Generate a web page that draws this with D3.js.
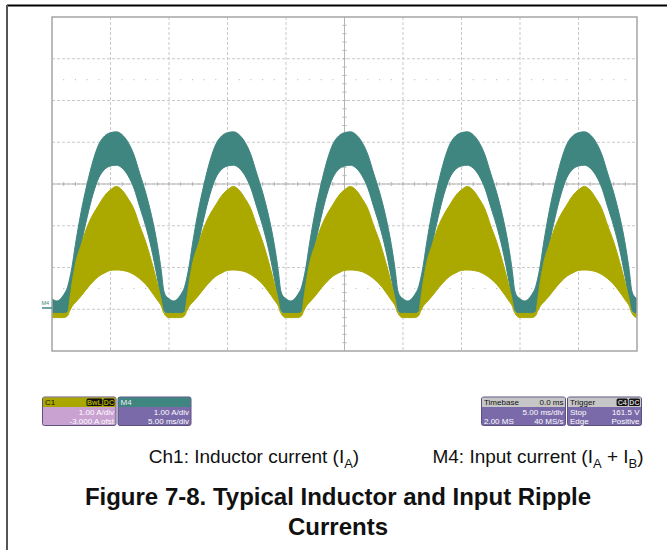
<!DOCTYPE html>
<html>
<head>
<meta charset="utf-8">
<script src="https://cdn.jsdelivr.net/npm/d3@7"></script>
<style>
  body { margin: 0; background: #fff; }
  text { font-family: "Liberation Sans", Arial, sans-serif; }
</style>
</head>
<body>
<div id="scope"></div>
<script>
// one 10 ms cycle of the rectified-line envelopes (A)
var cycleStarts = [0, 10, 20, 30, 40];   // ms
var tau  = [0, 0.4, 1.0, 1.35, 1.5, 1.7, 2.0, 2.5, 3.0, 3.5, 4.0, 4.5, 5.0, 5.5, 6.0, 6.5, 7.0, 7.5, 8.0, 8.5, 9.0, 9.35, 9.55, 9.8, 10.0];
var m4Hi = [0.25, 0.2, 0.35, 0.55, 0.72, 1.0, 1.55, 2.35, 3.0, 3.55, 3.95, 4.15, 4.23, 4.25, 4.18, 4.0, 3.7, 3.25, 2.8, 2.25, 1.55, 0.9, 0.45, 0.3, 0.25];
var m4Lo = [-0.12, -0.15, -0.12, -0.05, 0.0, 0.2, 0.7, 1.55, 2.2, 2.75, 3.15, 3.35, 3.43, 3.45, 3.38, 3.2, 2.9, 2.45, 2.0, 1.45, 0.75, 0.2, -0.02, -0.1, -0.12];
var ch1Hi = [-0.1, -0.1, -0.1, -0.08, 0.2, 0.6, 1.08, 1.55, 1.97, 2.27, 2.5, 2.72, 2.86, 2.94, 2.85, 2.65, 2.4, 2.0, 1.62, 1.15, 0.62, 0.2, -0.08, -0.1, -0.1];
var ch1Lo = [-0.2, -0.2, -0.2, -0.15, -0.05, 0.06, 0.16, 0.32, 0.5, 0.66, 0.79, 0.87, 0.93, 0.94, 0.93, 0.9, 0.83, 0.73, 0.6, 0.42, 0.22, 0.07, -0.08, -0.18, -0.2];

var timeDomain = [0, 50];   // 10 div x 5 ms
var ampDomain = [-1, 7];    // 8 div x 1 A, Ch1 offset -3 A

var boxes = [
  { head: "C1", tags: ["BwL", "DC"], rows: [["", "1.00 A/div"], ["", "-3.000 A ofst"]], hc: "#aaa800", bc: "#c9a2d2", tc: "#111" },
  { head: "M4", tags: [], rows: [["", "1.00 A/div"], ["", "5.00 ms/div"]], hc: "#3f8580", bc: "#7a6aa9", tc: "#eee" },
  { head: "Timebase", headRight: "0.0 ms", tags: [], rows: [["", "5.00 ms/div"], ["2.00 MS", "40 MS/s"]], hc: "#c6c6c6", bc: "#7a6aa9", tc: "#111" },
  { head: "Trigger", tags: ["C4", "DC"], rows: [["Stop", "161.5 V"], ["Edge", "Positive"]], hc: "#c6c6c6", bc: "#7a6aa9", tc: "#111" }
];
var boxX = [42.5, 118, 481.5, 567.5];
var boxW = [73.5, 73, 84, 74];

var W = 667, H = 550;
var svg = d3.select("#scope").append("svg").attr("width", W).attr("height", H);

// page frame
svg.append("line").attr("x1", 7).attr("x2", W).attr("y1", 5.5).attr("y2", 5.5).attr("stroke", "#000").attr("stroke-width", 2);
svg.append("line").attr("x1", 7).attr("x2", 7).attr("y1", 5).attr("y2", H).attr("stroke", "#555").attr("stroke-width", 2);

var x = d3.scaleLinear().domain(timeDomain).range([52, 637]);
var y = d3.scaleLinear().domain(ampDomain).range([351, 17]);

var grid = svg.append("g");
var xt = d3.range(timeDomain[0], timeDomain[1] + 1, 5);
var yt = d3.range(ampDomain[0], ampDomain[1] + 1, 1);

grid.selectAll(".vg").data(xt.slice(1, -1)).enter().append("line")
  .attr("x1", d => x(d)).attr("x2", d => x(d)).attr("y1", y(7)).attr("y2", y(-1))
  .attr("stroke", "#c9c9c9").attr("stroke-dasharray", "3,2");
grid.selectAll(".hg").data(yt.slice(1, -1)).enter().append("line")
  .attr("x1", x(0)).attr("x2", x(50)).attr("y1", d => y(d)).attr("y2", d => y(d))
  .attr("stroke", "#c9c9c9").attr("stroke-dasharray", "3,2");

// dotted rows
[y(5.5), y(0.5)].forEach(function (yy) {
  grid.selectAll(null).data(d3.range(1, 50)).enter().append("circle")
    .attr("cx", d => x(d)).attr("cy", yy).attr("r", 0.6).attr("fill", "#bbb");
});

// centre axes with minor ticks
grid.append("line").attr("x1", x(25)).attr("x2", x(25)).attr("y1", y(7)).attr("y2", y(-1)).attr("stroke", "#b5b5b5");
grid.append("line").attr("x1", x(0)).attr("x2", x(50)).attr("y1", y(3)).attr("y2", y(3)).attr("stroke", "#b5b5b5");
grid.selectAll(".tx").data(d3.range(1, 50)).enter().append("line")
  .attr("x1", d => x(d)).attr("x2", d => x(d)).attr("y1", y(3) - 2).attr("y2", y(3) + 2)
  .attr("stroke", "#b5b5b5");
grid.selectAll(".ty").data(d3.range(-0.8, 7, 0.2)).enter().append("line")
  .attr("x1", x(25) - 2).attr("x2", x(25) + 2).attr("y1", d => y(d)).attr("y2", d => y(d))
  .attr("stroke", "#b5b5b5");

// traces
var pts = function (hi, lo) {
  var out = [];
  cycleStarts.forEach(function (t0) {
    tau.forEach(function (t, i) { out.push({ t: t0 + t, hi: hi[i], lo: lo[i] }); });
  });
  return out;
};
var band = d3.area().curve(d3.curveMonotoneX)
  .x(d => x(d.t)).y0(d => y(d.lo)).y1(d => y(d.hi));

svg.append("clipPath").attr("id", "clip").append("rect")
  .attr("x", x(0)).attr("y", y(7)).attr("width", x(50) - x(0)).attr("height", y(-1) - y(7));
var tr = svg.append("g").attr("clip-path", "url(#clip)");
tr.append("path").datum(pts(m4Hi, m4Lo)).attr("d", band)
  .attr("fill", "#3f8580").attr("stroke", "#3f8580").attr("stroke-width", 1);
tr.append("path").datum(pts(ch1Hi, ch1Lo)).attr("d", band)
  .attr("fill", "#aba800").attr("stroke", "#aba800").attr("stroke-width", 1);

// frame
svg.append("rect").attr("x", x(0)).attr("y", y(7)).attr("width", x(50) - x(0)).attr("height", y(-1) - y(7))
  .attr("fill", "none").attr("stroke", "#a5a5a5").attr("stroke-width", 1.5);

// M4 ground marker
svg.append("text").attr("x", 41.5).attr("y", 305).attr("font-size", 5.5).attr("fill", "#3f8580").text("M4");
svg.append("line").attr("x1", 42).attr("x2", 52).attr("y1", 308).attr("y2", 308).attr("stroke", "#3f8580").attr("stroke-width", 1.5);

// info boxes
var boxTop = 397, hh = 9.5, rh = 9;
boxes.forEach(function (b, i) {
  var g = svg.append("g").attr("transform", "translate(" + boxX[i] + "," + boxTop + ")");
  var w = boxW[i];
  g.append("rect").attr("width", w).attr("height", hh + 2 * rh + 1).attr("rx", 2)
    .attr("fill", b.bc).attr("stroke", "#5b5280").attr("stroke-width", 1);
  g.append("rect").attr("x", 0.5).attr("y", 0.5).attr("width", w - 1).attr("height", hh).attr("fill", b.hc);
  g.append("text").attr("x", 2.5).attr("y", hh - 1.5).attr("font-size", 8).attr("fill", b.tc).text(b.head);
  if (b.headRight) {
    g.append("text").attr("x", w - 2).attr("y", hh - 1.5).attr("font-size", 8).attr("text-anchor", "end").attr("fill", "#111").text(b.headRight);
  }
  var tx = w - 1.5;
  b.tags.slice().reverse().forEach(function (t) {
    var tw = t.length * 4.6 + 2;
    tx -= tw;
    g.append("rect").attr("x", tx).attr("y", 1.5).attr("width", tw).attr("height", hh - 2).attr("rx", 1.5).attr("fill", "#111");
    g.append("text").attr("x", tx + tw / 2).attr("y", hh - 2).attr("font-size", 7).attr("font-weight", "bold")
      .attr("text-anchor", "middle").attr("fill", i === 0 ? "#aba800" : "#ccc").text(t);
    tx -= 1;
  });
  b.rows.forEach(function (r, j) {
    var yy = hh + (j + 1) * rh - 1;
    if (r[0]) g.append("text").attr("x", 2.5).attr("y", yy).attr("font-size", 8).attr("fill", "#fff").text(r[0]);
    g.append("text").attr("x", w - 2).attr("y", yy).attr("font-size", 8).attr("text-anchor", "end").attr("fill", "#fff").text(r[1]);
  });
});

// captions
var cap1 = svg.append("text").attr("x", 254).attr("y", 463).attr("font-size", 19).attr("text-anchor", "middle").attr("fill", "#111");
cap1.append("tspan").text("Ch1: Inductor current (I");
cap1.append("tspan").attr("font-size", 13).attr("dy", 5).text("A");
cap1.append("tspan").attr("dy", -5).text(")");

var cap2 = svg.append("text").attr("x", 538).attr("y", 463).attr("font-size", 19).attr("text-anchor", "middle").attr("fill", "#111");
cap2.append("tspan").text("M4: Input current (I");
cap2.append("tspan").attr("font-size", 13).attr("dy", 5).text("A");
cap2.append("tspan").attr("dy", -5).text(" + I");
cap2.append("tspan").attr("font-size", 13).attr("dy", 5).text("B");
cap2.append("tspan").attr("dy", -5).text(")");

svg.append("text").attr("x", 338).attr("y", 505).attr("font-size", 24).attr("font-weight", "bold")
  .attr("text-anchor", "middle").attr("fill", "#111").text("Figure 7-8. Typical Inductor and Input Ripple");
svg.append("text").attr("x", 338).attr("y", 535).attr("font-size", 24).attr("font-weight", "bold")
  .attr("text-anchor", "middle").attr("fill", "#111").text("Currents");
</script>
</body>
</html>
